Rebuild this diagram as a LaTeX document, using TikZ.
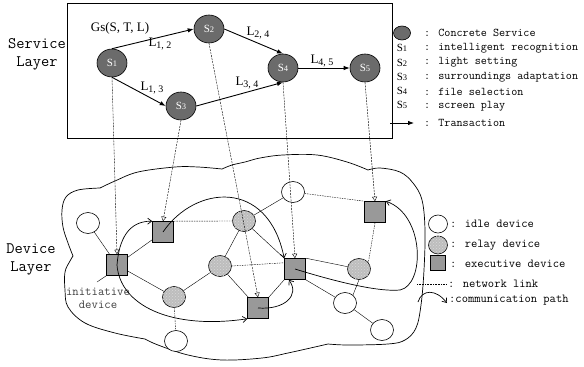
\documentclass[tikz,border=0pt]{standalone}
\usepackage{fontspec}
\setmainfont{Liberation Serif}
\usetikzlibrary{arrows.meta,shapes.geometric,patterns}

% service index: S with a small lowered digit
\newcommand{\svlabel}[1]{S\raisebox{-0.6pt}{\fontsize{8.5}{8.5}\selectfont #1}}
% link label: L with a lowered index pair
\newcommand{\lklabel}[1]{L\raisebox{-1.5pt}{\fontsize{10}{10}\selectfont #1}}

\tikzset{
  svc/.style={ellipse, draw=black, line width=0.6pt, fill=black!58,
    minimum width=30pt, minimum height=28pt, inner sep=0pt, text=white,
    font=\fontsize{11}{11}\selectfont},
  trans/.style={line width=0.9pt, -{Latex[length=6pt,width=4.5pt]}},
  bind/.style={line width=0.4pt, dash pattern=on 2pt off 1pt,
    -{Triangle[open,length=4.5pt,width=5pt]}},
  idle/.style={ellipse, draw=black, fill=white, minimum width=23pt,
    minimum height=21pt, inner sep=0pt, line width=0.6pt},
  relay/.style={idle, fill=black!26,
    postaction={pattern=crosshatch dots, pattern color=white!85!black}},
  exec/.style={rectangle, draw=black, fill=black!40, minimum size=21pt,
    inner sep=0pt, line width=0.6pt},
  link/.style={line width=0.4pt},
  dlink/.style={line width=0.4pt, dash pattern=on 1.5pt off 1pt},
  comm/.style={line width=0.7pt, -{Straight Barb[length=4pt,width=6pt]}},
  cloudline/.style={line width=0.7pt},
  lbl/.style={inner sep=0pt, font=\fontsize{13}{13}\selectfont},
  legtxt/.style={anchor=west, inner sep=0pt, font=\ttfamily\fontsize{11.8}{11.8}\selectfont},
  devtxt/.style={anchor=west, inner sep=0pt, font=\ttfamily\fontsize{12.2}{12.2}\selectfont},
  layertxt/.style={inner sep=0pt, align=center,
    font=\ttfamily\fontsize{16}{18}\selectfont},
}

\begin{document}
\begin{tikzpicture}[x=1pt, y=-1pt]
\useasboundingbox (0,0) rectangle (584,367);

% ---------------- device layer outline ----------------
\draw[cloudline]
  plot[smooth, tension=0.6] coordinates {(73,256) (68,243) (63,227) (62,210) (66,197) (78,190) (100,188)}
  -- plot[smooth, tension=0.6] coordinates {(100,188) (115,181) (138,172) (175,167) (198,167) (222,169)}
  -- plot[smooth, tension=0.6] coordinates {(222,169) (232,165) (245,162) (260,158) (283,155) (317,155) (347,162) (368,170)}
  -- plot[smooth, tension=0.6] coordinates {(368,170) (380,168) (400,172) (413,183) (422,200) (425,230) (424,270) (421,305) (416,328) (405,340) (388,344) (348,345) (328,344)}
  -- plot[smooth, tension=0.6] coordinates {(328,344) (288,353) (262,358) (222,360) (188,355) (158,345) (145,339)}
  -- plot[smooth, tension=0.6] coordinates {(145,339) (115,333) (85,323) (68,307) (65,290) (65,272) (70,261) (73,256)}
  -- cycle;

% ---------------- service layer ----------------
\draw[line width=0.8pt] (67,3) rectangle (392,138);

\node[layertxt] (svclayer) at (37,54) {Service\\Layer};
\node[layertxt] (devlayer) at (31,259) {Device\\Layer};

\node[svc] (S1) at (112,63) {\svlabel{1}};
\node[svc] (S2) at (209,29) {\svlabel{2}};
\node[svc] (S3) at (181,106) {\svlabel{3}};
\node[svc] (S4) at (283,68) {\svlabel{4}};
\node[svc] (S5) at (365,68) {\svlabel{5}};

\node[lbl] (gs) at (120,28) {Gs(S, T, L)};
\node[lbl] (l12) at (160,44) {\lklabel{1, 2}};
\node[lbl] (l13) at (152,88) {\lklabel{1, 3}};
\node[lbl] (l24) at (258,33) {\lklabel{2, 4}};
\node[lbl] (l34) at (247,83) {\lklabel{3, 4}};
\node[lbl] (l45) at (322,61) {\lklabel{4, 5}};

\draw[trans] (S1.north) -- (S2.west);
\draw[trans] (S1.south) -- (S3.west);
\draw[trans] (S2.east) -- (S4.north);
\draw[trans] (S3.east) -- (S4.south);
\draw[trans] (S4.east) -- (S5.west);

% service legend
\node[svc, minimum width=17pt, minimum height=14pt] (ls) at (402,33) {};
\node[legtxt] (lt0) at (424,33) {: Concrete Service};
\node[inner sep=0pt, font=\fontsize{11}{11}\selectfont] (ls1) at (402,48) {\svlabel{1}};
\node[inner sep=0pt, font=\fontsize{11}{11}\selectfont] (ls2) at (402,63) {\svlabel{2}};
\node[inner sep=0pt, font=\fontsize{11}{11}\selectfont] (ls3) at (402,77) {\svlabel{3}};
\node[inner sep=0pt, font=\fontsize{11}{11}\selectfont] (ls4) at (402,91) {\svlabel{4}};
\node[inner sep=0pt, font=\fontsize{11}{11}\selectfont] (ls5) at (402,105) {\svlabel{5}};
\node[legtxt] (lt1) at (424,48) {: intelligent recognition};
\node[legtxt] (lt2) at (424,62) {: light setting};
\node[legtxt] (lt3) at (424,77) {: surroundings adaptation};
\node[legtxt] (lt4) at (424,92) {: file selection};
\node[legtxt] (lt5) at (424,106) {: screen play};
\node[legtxt] (lt6) at (424,123) {: Transaction};
\coordinate (ta) at (390,123);
\coordinate (tb) at (414,123);
\draw[trans, line width=0.8pt] (ta) -- (tb);

% ---------------- devices ----------------
\node[idle] (A) at (88,223) {};
\node[idle] (C) at (293,192) {};
\node[idle] (B) at (176,341) {};
\node[idle] (D) at (345,303) {};
\node[idle] (F) at (382,330) {};

\node[relay] (R1) at (244,221) {};
\node[relay] (R2) at (220,266) {};
\node[relay] (R3) at (174,297) {};
\node[relay] (R4) at (359,269) {};

\node[exec] (E1) at (117,265) {};
\node[exec] (E2) at (163,232) {};
\node[exec] (E3) at (258,308) {};
\node[exec] (E4) at (295,269) {};
\node[exec] (E5) at (375,212) {};

\node[inner sep=0pt, align=center, text=black!75,
      font=\ttfamily\fontsize{12.4}{13}\selectfont] (init) at (98,298) {initiative\\device};
\coordinate (initlead) at (97,282);

% network links
\draw[link] (A) -- (E1);
\draw[link] (E1) -- (E2);
\draw[link] (E1) -- (R3);
\draw[link] (E1.south west) -- (initlead);
\draw[dlink] (E2.north east) -- (R1.west);
\draw[link] (R1) -- (C);
\draw[link] (R1) -- (R2);
\draw[link] (R1) -- (E4.north west);
\draw[link] (R2) -- (R3);
\draw[link] (R2) -- (E3);
\draw[dlink] (R2.east) -- (E4.150);
\draw[link] (E3.north east) -- (E4.south west);
\draw[dlink] (R3) -- (B);
\draw[dlink] (C) -- (E5.north west);
\draw[dlink] (E5.south) -- (R4.35);
\draw[link] (E4.north east) -- (R4);
\draw[link] (E4.south east) -- (D);
\draw[link] (R4.south) -- (D.45);
\draw[link] (D) -- (F);

% service-to-device bindings
\draw[bind] (S1.south) -- (E1.north);
\draw[bind] (S3.south) -- (E2.north);
\draw[bind] (S2.south) -- (E3.north);
\draw[bind] (S4.south) -- (E4.north);
\draw[bind] (S5.south) -- (E5.north);

% communication paths
\draw[comm] (E1.center) .. controls (119,240) and (128,221) .. (E2.north west);
\draw[comm] (E1.center) .. controls (120,305) and (170,330) .. (E3.south west);
\draw[comm] (E2.center) .. controls (195,185) and (268,178) .. (E4.north west);
\draw[comm] (E3.center) .. controls (285,310) and (300,295) .. (E4.240);
\coordinate (cp) at (400,290);
\draw[line width=0.7pt] (E4.center) .. controls (340,283) and (380,292) .. (cp);
\draw[comm] (cp) .. controls (425,285) and (425,215) .. (E5.north east);

% ---------------- device legend ----------------
\node[idle, minimum width=19pt, minimum height=18pt] (li) at (438,224) {};
\node[relay, minimum width=19pt, minimum height=18pt] (lr) at (438,245) {};
\node[exec, minimum size=15pt] (le) at (438,263) {};
\node[devtxt] (dt1) at (450,224) {: idle device};
\node[devtxt] (dt2) at (450,245) {: relay device};
\node[devtxt] (dt3) at (450,264) {: executive device};
\node[devtxt] (dt4) at (448,284) {: network link};
\node[devtxt] (dt5) at (449,300) {:communication path};
\coordinate (na) at (417,284);
\coordinate (nb) at (446,284);
\draw[line width=0.5pt, dash pattern=on 1pt off 0.6pt] (na) -- (nb);
\coordinate (ca) at (418,302);
\coordinate (cb) at (447,303);
\draw[comm] (ca) .. controls (422,289) and (436,289) .. (cb);
\end{tikzpicture}
\end{document}
